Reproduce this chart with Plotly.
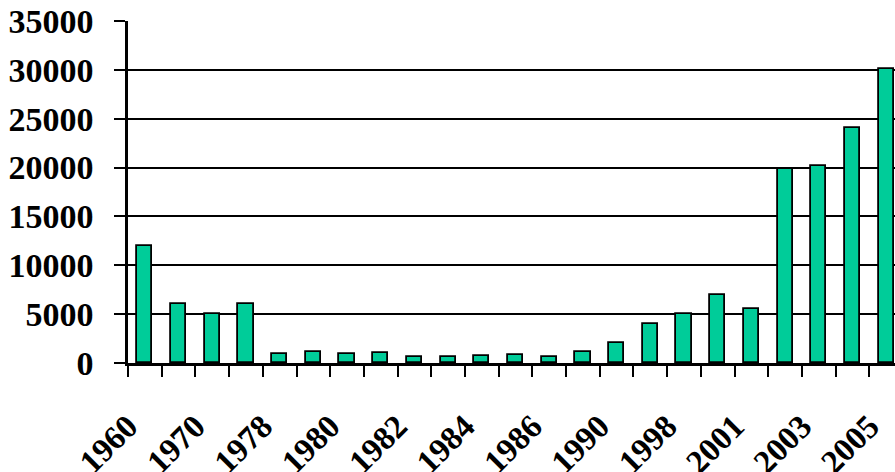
import plotly.graph_objects as go

# Year categories and counts
years = ["1960", "1965", "1970", "1975", "1978", "1979", "1980", "1981",
         "1982", "1983", "1984", "1985", "1986", "1988", "1990", "1995",
         "1998", "2000", "2001", "2002", "2003", "2004", "2005"]
values = [12000, 6000, 5000, 6000, 900, 1100, 900, 1000,
          600, 650, 700, 800, 600, 1100, 2000, 4000,
          5000, 7000, 5500, 19900, 20200, 24000, 30100]

y_ticks = [0, 5000, 10000, 15000, 20000, 25000, 30000, 35000]

# Ticks sit on category boundaries; every second year is labelled at the
# left boundary of its category
boundaries = [i - 0.5 for i in range(len(years) + 1)]
boundary_text = [years[i] if i < len(years) and i % 2 == 0 else ""
                 for i in range(len(years) + 1)]

font_family = "Liberation Serif"

fig = go.Figure(
    go.Bar(
        x=list(range(len(years))),
        y=values,
        width=0.45,
        marker=dict(color="#00CC99", line=dict(color="black", width=1.8)),
        hoverinfo="skip",
    )
)

fig.update_layout(
    template="none",
    width=895,
    height=472,
    margin=dict(l=128, r=0, t=21, b=109),
    paper_bgcolor="white",
    plot_bgcolor="white",
    showlegend=False,
    bargap=0,
    font=dict(family=font_family, color="black"),
)

fig.update_xaxes(
    range=[-0.5, 22.26],
    tickmode="array",
    tickvals=boundaries,
    ticktext=boundary_text,
    tickangle=-45,
    ticks="outside",
    ticklen=11,
    tickwidth=2,
    tickcolor="black",
    ticklabelstandoff=17,
    tickfont=dict(family=font_family, size=33, weight="bold"),
    showgrid=False,
    zeroline=False,
    showline=True,
    linecolor="black",
    linewidth=2.5,
)

fig.update_yaxes(
    range=[0, 35000],
    tickmode="array",
    tickvals=y_ticks,
    ticktext=[str(v) for v in y_ticks],
    ticks="outside",
    ticklen=11,
    tickwidth=2,
    tickcolor="black",
    ticklabelstandoff=14,
    tickfont=dict(family=font_family, size=34, weight="bold"),
    showgrid=True,
    gridcolor="black",
    gridwidth=2,
    zeroline=False,
    showline=True,
    linecolor="black",
    linewidth=2.5,
)

fig.write_html("out.html")
